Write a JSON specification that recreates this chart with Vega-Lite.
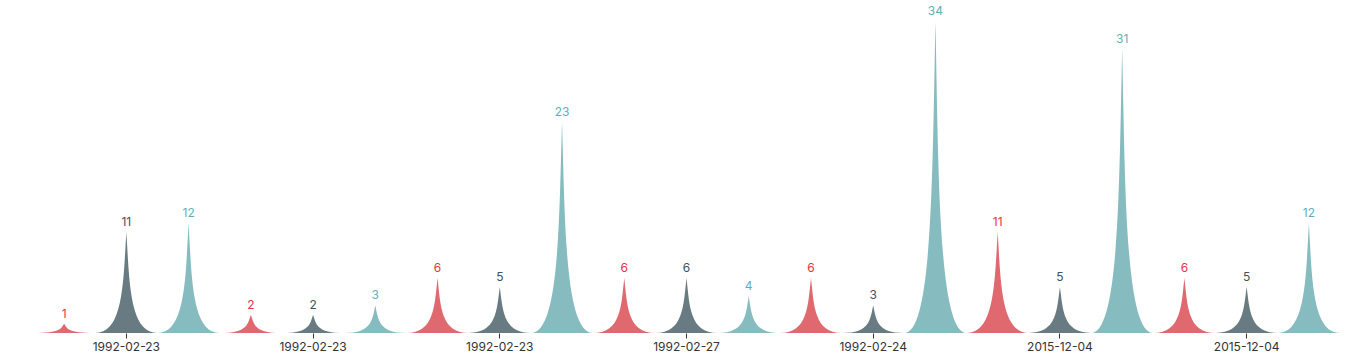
{
  "$schema": "https://vega.github.io/schema/vega-lite/v6.json",
  "autosize": {"type": "none"},
  "width": 1307,
  "height": 312,
  "padding": {"left": 33, "top": 21, "right": 12, "bottom": 28},
  "background": "white",
  "config": {"view": {"stroke": null}, "font": "Inter"},
  "data": {
    "values": [
      {"idx": 0, "series": "A", "value": 1},
      {"idx": 0, "series": "B", "value": 11},
      {"idx": 0, "series": "C", "value": 12},
      {"idx": 1, "series": "A", "value": 2},
      {"idx": 1, "series": "B", "value": 2},
      {"idx": 1, "series": "C", "value": 3},
      {"idx": 2, "series": "A", "value": 6},
      {"idx": 2, "series": "B", "value": 5},
      {"idx": 2, "series": "C", "value": 23},
      {"idx": 3, "series": "A", "value": 6},
      {"idx": 3, "series": "B", "value": 6},
      {"idx": 3, "series": "C", "value": 4},
      {"idx": 4, "series": "A", "value": 6},
      {"idx": 4, "series": "B", "value": 3},
      {"idx": 4, "series": "C", "value": 34},
      {"idx": 5, "series": "A", "value": 11},
      {"idx": 5, "series": "B", "value": 5},
      {"idx": 5, "series": "C", "value": 31},
      {"idx": 6, "series": "A", "value": 6},
      {"idx": 6, "series": "B", "value": 5},
      {"idx": 6, "series": "C", "value": 12}
    ]
  },
  "encoding": {
    "x": {
      "field": "idx",
      "type": "ordinal",
      "scale": {"type": "band", "paddingInner": 0, "paddingOuter": 0},
      "axis": {
        "title": null,
        "domain": false,
        "grid": false,
        "ticks": true,
        "tickSize": 5,
        "tickColor": "#333333",
        "labelColor": "#333333",
        "labelFontSize": 12,
        "labelPadding": 3,
        "labelAngle": 0,
        "labelExpr": "['1992-02-23','1992-02-23','1992-02-23','1992-02-27','1992-02-24','2015-12-04','2015-12-04'][datum.value]"
      }
    },
    "xOffset": {
      "field": "series",
      "type": "nominal",
      "sort": ["A", "B", "C"],
      "scale": {"type": "band", "paddingInner": 0, "paddingOuter": 0}
    }
  },
  "layer": [
    {
      "mark": {"type": "point", "filled": true, "size": 4, "opacity": 1, "strokeWidth": 0},
      "encoding": {
        "y": {"datum": 0, "type": "quantitative", "scale": {"domain": [0, 34], "nice": false, "zero": true}, "axis": null},
        "color": {
          "field": "series",
          "type": "nominal",
          "scale": {"domain": ["A", "B", "C"], "range": ["#e0686f", "#687b83", "#86bcc0"]},
          "legend": null
        },
        "shape": {
          "field": "value",
          "type": "ordinal",
          "scale": {
            "domain": [1, 2, 3, 4, 5, 6, 11, 12, 23, 31, 34],
            "range": [
              "M-31.1,0L31.1,0C3.11,0,3.11,-4.59,0,-9.18C-3.11,-4.59,-3.11,0,-31.1,0Z",
              "M-31.1,0L31.1,0C3.11,0,3.11,-9.18,0,-18.35C-3.11,-9.18,-3.11,0,-31.1,0Z",
              "M-31.1,0L31.1,0C3.11,0,3.11,-13.76,0,-27.53C-3.11,-13.76,-3.11,0,-31.1,0Z",
              "M-31.1,0L31.1,0C3.11,0,3.11,-18.35,0,-36.71C-3.11,-18.35,-3.11,0,-31.1,0Z",
              "M-31.1,0L31.1,0C3.11,0,3.11,-22.94,0,-45.88C-3.11,-22.94,-3.11,0,-31.1,0Z",
              "M-31.1,0L31.1,0C3.11,0,3.11,-27.53,0,-55.06C-3.11,-27.53,-3.11,0,-31.1,0Z",
              "M-31.1,0L31.1,0C3.11,0,3.11,-50.47,0,-100.94C-3.11,-50.47,-3.11,0,-31.1,0Z",
              "M-31.1,0L31.1,0C3.11,0,3.11,-55.06,0,-110.12C-3.11,-55.06,-3.11,0,-31.1,0Z",
              "M-31.1,0L31.1,0C3.11,0,3.11,-105.53,0,-211.06C-3.11,-105.53,-3.11,0,-31.1,0Z",
              "M-31.1,0L31.1,0C3.11,0,3.11,-142.24,0,-284.47C-3.11,-142.24,-3.11,0,-31.1,0Z",
              "M-31.1,0L31.1,0C3.11,0,3.11,-156,0,-312C-3.11,-156,-3.11,0,-31.1,0Z"
            ]
          },
          "legend": null
        }
      }
    },
    {
      "mark": {"type": "text", "baseline": "alphabetic", "dy": -6, "fontSize": 12},
      "encoding": {
        "y": {"field": "value", "type": "quantitative", "axis": null},
        "text": {"field": "value", "type": "quantitative"},
        "color": {
          "field": "series",
          "type": "nominal",
          "scale": {"domain": ["A", "B", "C"], "range": ["#e3343f", "#3d5160", "#5fb0b6"]},
          "legend": null
        }
      }
    }
  ],
  "resolve": {"scale": {"color": "independent"}}
}
